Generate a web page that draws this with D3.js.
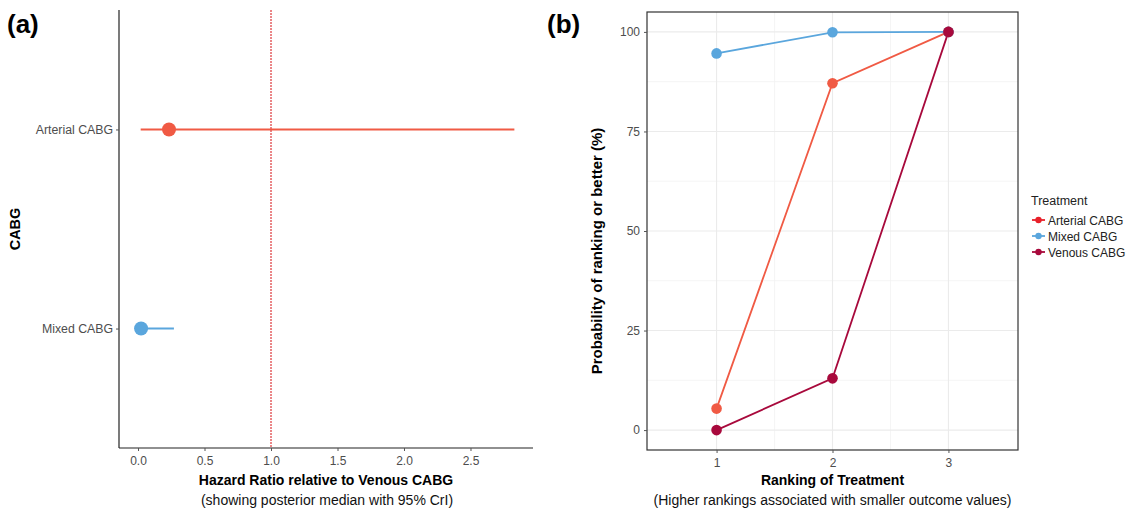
<!DOCTYPE html>
<html>
<head>
<meta charset="utf-8">
<script src="https://cdn.jsdelivr.net/npm/d3@7"></script>
<style>
  body { margin: 0; background: #fff; }
  svg { font-family: "Liberation Sans", Arial, sans-serif; }
</style>
</head>
<body>
<svg id="chart" width="1126" height="511"></svg>
<script>
// Panel (a): hazard ratios vs Venous CABG
const forestTreatments = ["Mixed CABG", "Arterial CABG"];
const forestMedian = [0.023, 0.233];
const forestLower = [0.003, 0.02];
const forestUpper = [0.27, 2.83];
const forestColors = ["#5aa6dd", "#f05a44"];
const forestTicks = [0.0, 0.5, 1.0, 1.5, 2.0, 2.5];
const referenceHR = 1.0;

// Panel (b): cumulative ranking probabilities
const ranks = [1, 2, 3];
const rankTreatments = ["Arterial CABG", "Mixed CABG", "Venous CABG"];
const rankArterial = [5.4, 87.1, 100];
const rankMixed = [94.6, 99.9, 100];
const rankVenous = [0.0, 13.0, 100];
const rankColors = ["#f05a44", "#5aa6dd", "#a8093c"];
const legendColors = ["#e8202a", "#5aa6dd", "#a8093c"];
const rankTicks = [0, 25, 50, 75, 100];

const svg = d3.select("#chart");
const tickColor = "#4d4d4d";

// ---------- Panel (a) ----------
const a = { left: 119, right: 533, top: 10, bottom: 448 };
const xA = d3.scaleLinear().domain([-0.143, 2.97]).range([a.left, a.right]);
const yA = d3.scalePoint().domain(forestTreatments).range([a.bottom, a.top]).padding(0.6);

const gA = svg.append("g");

// reference line
gA.append("line")
  .attr("x1", xA(referenceHR)).attr("x2", xA(referenceHR))
  .attr("y1", a.top).attr("y2", a.bottom)
  .attr("stroke", "#e0464a").attr("stroke-width", 1.3)
  .attr("stroke-dasharray", "2,1");

// intervals and points
forestTreatments.forEach((t, i) => {
  gA.append("line")
    .attr("x1", xA(forestLower[i])).attr("x2", xA(forestUpper[i]))
    .attr("y1", yA(t)).attr("y2", yA(t))
    .attr("stroke", forestColors[i]).attr("stroke-width", 2);
  gA.append("circle")
    .attr("cx", xA(forestMedian[i])).attr("cy", yA(t)).attr("r", 7)
    .attr("fill", forestColors[i]);
});

// axes
const xAxisA = d3.axisBottom(xA).tickValues(forestTicks).tickFormat(d3.format(".1f")).tickSize(3).tickPadding(5);
const gxA = gA.append("g").attr("transform", `translate(0,${a.bottom})`).call(xAxisA);
gxA.select(".domain").attr("d", `M${a.left},0H${a.right}`).attr("stroke", "#222").attr("stroke-width", 1.2);
gxA.selectAll(".tick line").attr("stroke", "#555");
gxA.selectAll(".tick text").attr("fill", tickColor).attr("font-size", 12);

const yAxisA = d3.axisLeft(yA).tickSize(3).tickPadding(3);
const gyA = gA.append("g").attr("transform", `translate(${a.left},0)`).call(yAxisA);
gyA.select(".domain").attr("d", `M0,${a.top}V${a.bottom}`).attr("stroke", "#222").attr("stroke-width", 1.2);
gyA.selectAll(".tick line").attr("stroke", "#555");
gyA.selectAll(".tick text").attr("fill", tickColor).attr("font-size", 12.3);

gA.append("text").attr("x", 326).attr("y", 485).attr("text-anchor", "middle")
  .attr("font-weight", "bold").attr("font-size", 14).text("Hazard Ratio relative to Venous CABG");
gA.append("text").attr("x", 327).attr("y", 505).attr("text-anchor", "middle")
  .attr("font-size", 14).attr("fill", "#111").text("(showing posterior median with 95% CrI)");
gA.append("text").attr("transform", `translate(20,${(a.top + a.bottom) / 2}) rotate(-90)`)
  .attr("text-anchor", "middle").attr("font-weight", "bold").attr("font-size", 14.5).text("CABG");
svg.append("text").attr("x", 7).attr("y", 33).attr("font-weight", "bold").attr("font-size", 26).text("(a)");

// ---------- Panel (b) ----------
const b = { left: 647, right: 1018, top: 12, bottom: 450 };
const xB = d3.scaleLinear().domain([0.4, 3.6]).range([b.left, b.right]);
const yB = d3.scaleLinear().domain([-5, 105]).range([b.bottom, b.top]);
const gB = svg.append("g");

// grid
const minorY = [12.5, 37.5, 62.5, 87.5];
const minorX = [1.5, 2.5];
gB.selectAll(".gminy").data(minorY).join("line")
  .attr("x1", b.left).attr("x2", b.right).attr("y1", d => yB(d)).attr("y2", d => yB(d))
  .attr("stroke", "#f2f2f2").attr("stroke-width", 0.8);
gB.selectAll(".gminx").data(minorX).join("line")
  .attr("y1", b.top).attr("y2", b.bottom).attr("x1", d => xB(d)).attr("x2", d => xB(d))
  .attr("stroke", "#f2f2f2").attr("stroke-width", 0.8);
gB.selectAll(".gy").data(rankTicks).join("line")
  .attr("x1", b.left).attr("x2", b.right).attr("y1", d => yB(d)).attr("y2", d => yB(d))
  .attr("stroke", "#ebebeb").attr("stroke-width", 1.1);
gB.selectAll(".gx").data(ranks).join("line")
  .attr("y1", b.top).attr("y2", b.bottom).attr("x1", d => xB(d)).attr("x2", d => xB(d))
  .attr("stroke", "#ebebeb").attr("stroke-width", 1.1);

const series = [rankArterial, rankMixed, rankVenous];
const line = d3.line().x((d, i) => xB(ranks[i])).y(d => yB(d));
series.forEach((vals, s) => {
  gB.append("path").datum(vals).attr("d", line)
    .attr("fill", "none").attr("stroke", rankColors[s]).attr("stroke-width", 1.8);
});
series.forEach((vals, s) => {
  gB.selectAll(null).data(vals).join("circle")
    .attr("cx", (d, i) => xB(ranks[i])).attr("cy", d => yB(d)).attr("r", 5.3)
    .attr("fill", rankColors[s]);
});

// border
gB.append("rect").attr("x", b.left).attr("y", b.top)
  .attr("width", b.right - b.left).attr("height", b.bottom - b.top)
  .attr("fill", "none").attr("stroke", "#333").attr("stroke-width", 1.2);

const xAxisB = d3.axisBottom(xB).tickValues(ranks).tickFormat(d3.format("d")).tickSize(3).tickPadding(5);
const gxB = gB.append("g").attr("transform", `translate(0,${b.bottom})`).call(xAxisB);
gxB.select(".domain").remove();
gxB.selectAll(".tick line").attr("stroke", "#555");
gxB.selectAll(".tick text").attr("fill", tickColor).attr("font-size", 12);

const yAxisB = d3.axisLeft(yB).tickValues(rankTicks).tickSize(3).tickPadding(4);
const gyB = gB.append("g").attr("transform", `translate(${b.left},0)`).call(yAxisB);
gyB.select(".domain").remove();
gyB.selectAll(".tick line").attr("stroke", "#555");
gyB.selectAll(".tick text").attr("fill", tickColor).attr("font-size", 12);

gB.append("text").attr("x", (b.left + b.right) / 2).attr("y", 485).attr("text-anchor", "middle")
  .attr("font-weight", "bold").attr("font-size", 14).text("Ranking of Treatment");
gB.append("text").attr("x", (b.left + b.right) / 2).attr("y", 505).attr("text-anchor", "middle")
  .attr("font-size", 14).attr("fill", "#111").text("(Higher rankings associated with smaller outcome values)");
gB.append("text").attr("transform", `translate(602,${(b.top + b.bottom) / 2 + 20}) rotate(-90)`)
  .attr("text-anchor", "middle").attr("font-weight", "bold").attr("font-size", 15)
  .text("Probability of ranking or better (%)");
svg.append("text").attr("x", 547).attr("y", 33).attr("font-weight", "bold").attr("font-size", 26).text("(b)");

// legend
const lg = svg.append("g").attr("transform", "translate(1031,0)");
lg.append("text").attr("x", 0).attr("y", 205).attr("font-size", 12.5).attr("fill", "#222").text("Treatment");
rankTreatments.forEach((t, i) => {
  const y = 220 + i * 16;
  lg.append("line").attr("x1", 1).attr("x2", 14).attr("y1", y).attr("y2", y)
    .attr("stroke", legendColors[i]).attr("stroke-width", 1.8);
  lg.append("circle").attr("cx", 7.5).attr("cy", y).attr("r", 3.2).attr("fill", legendColors[i]);
  lg.append("text").attr("x", 17).attr("y", y + 4.5).attr("font-size", 12).attr("fill", "#222").text(t);
});
</script>
</body>
</html>
